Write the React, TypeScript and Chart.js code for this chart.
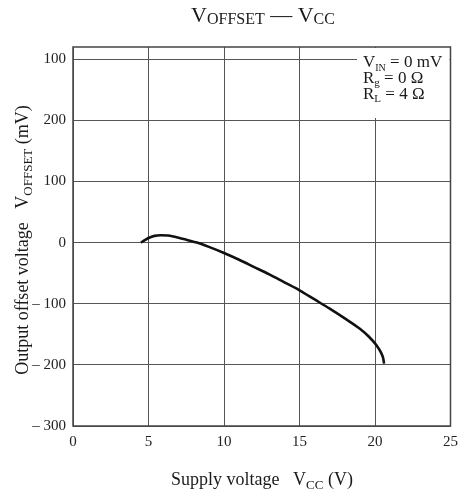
import React, { useEffect, useRef } from "react";
import { Chart, registerables } from "chart.js";

Chart.register(...registerables);

// ---- data ----
const vcc = [4.5, 4.75, 5.0, 5.4, 5.8, 6.3, 7.0, 7.6, 8.2, 9.0, 10.0, 11.0, 12.0, 13.0, 14.0, 15.0, 16.0, 17.0, 18.0, 19.0, 19.6, 20.1, 20.4, 20.55, 20.6];
const voffset = [0, 4, 7.5, 11, 12, 11.5, 8, 4, 0, -7, -17, -28, -40, -52, -65, -78, -93, -108, -124, -141, -154, -168, -180, -190, -198];

const xTickValues = [0, 5, 10, 15, 20, 25];
const xTickLabels = ["0", "5", "10", "15", "20", "25"];
const yTickValues = [-300, -200, -100, 0, 100, 200, 300];
const yTickLabels = ["– 300", "– 200", "– 100", "0", "100", "200", "100"];

const FONT = '"Liberation Serif", "Times New Roman", serif';

type Part = { t: string; size: number; dy?: number };

const titleParts: Part[] = [
  { t: "V", size: 22 },
  { t: "OFFSET", size: 16, dy: 2 },
  { t: " — ", size: 22 },
  { t: "V", size: 22 },
  { t: "CC", size: 16, dy: 2 },
];
const xTitleParts: Part[] = [
  { t: "Supply voltage   V", size: 18 },
  { t: "CC", size: 13, dy: 4 },
  { t: " (V)", size: 18 },
];
const yTitleParts: Part[] = [
  { t: "Output offset voltage   V", size: 18 },
  { t: "OFFSET", size: 13, dy: 4 },
  { t: " (mV)", size: 18 },
];
const conditionLines: Part[][] = [
  [{ t: "V", size: 17 }, { t: "IN", size: 10, dy: 3.5 }, { t: " = 0 mV", size: 17 }],
  [{ t: "R", size: 17 }, { t: "g", size: 11, dy: 3 }, { t: " = 0 Ω", size: 17 }],
  [{ t: "R", size: 17 }, { t: "L", size: 11, dy: 3 }, { t: " = 4 Ω", size: 17 }],
];

function partsWidth(ctx: CanvasRenderingContext2D, parts: Part[]) {
  let w = 0;
  for (const p of parts) {
    ctx.font = `${p.size}px ${FONT}`;
    w += ctx.measureText(p.t).width;
  }
  return w;
}

function drawParts(ctx: CanvasRenderingContext2D, parts: Part[], x: number, y: number, align: "left" | "center") {
  const w = partsWidth(ctx, parts);
  let cx = align === "center" ? x - w / 2 : x;
  ctx.textAlign = "left";
  ctx.textBaseline = "alphabetic";
  for (const p of parts) {
    ctx.font = `${p.size}px ${FONT}`;
    ctx.fillText(p.t, cx, y + (p.dy || 0));
    cx += ctx.measureText(p.t).width;
  }
}

const decorPlugin = {
  id: "decor",
  afterDraw(chart: any) {
    const ctx: CanvasRenderingContext2D = chart.ctx;
    const a = chart.chartArea;
    ctx.save();
    // conditions box
    ctx.fillStyle = "#ffffff";
    ctx.fillRect(357, a.top + 1, a.right - 357 - 1, 117 - a.top);
    ctx.fillStyle = "#1a1a1a";
    const baselines = [67, 83, 99];
    conditionLines.forEach((ln, i) => drawParts(ctx, ln, 363, baselines[i], "left"));
    // frame
    ctx.strokeStyle = "#444";
    ctx.lineWidth = 1.5;
    ctx.strokeRect(a.left, a.top, a.right - a.left, a.bottom - a.top);
    // titles
    ctx.fillStyle = "#1a1a1a";
    drawParts(ctx, titleParts, 263, 22, "center");
    drawParts(ctx, xTitleParts, 262, 485, "center");
    ctx.translate(28, 240);
    ctx.rotate(-Math.PI / 2);
    drawParts(ctx, yTitleParts, 0, 0, "center");
    ctx.restore();
  },
};

export default function App() {
  const ref = useRef<HTMLCanvasElement | null>(null);
  useEffect(() => {
    if (!ref.current) return;
    const chart = new Chart(ref.current, {
      type: "scatter",
      data: {
        datasets: [
          {
            data: vcc.map((x, i) => ({ x, y: voffset[i] })),
            showLine: true,
            borderColor: "#111",
            borderWidth: 2.6,
            pointRadius: 0,
            cubicInterpolationMode: "monotone",
            fill: false,
          },
        ],
      },
      options: {
        animation: false,
        responsive: false,
        devicePixelRatio: 1,
        layout: { padding: { top: 47, left: 0, right: 14, bottom: 0 } },
        plugins: { legend: { display: false }, tooltip: { enabled: false }, title: { display: false } },
        scales: {
          x: {
            type: "linear",
            min: 0,
            max: 25,
            afterFit: (s: any) => { s.height = 67; },
            afterBuildTicks: (s: any) => { s.ticks = xTickValues.map((v) => ({ value: v })); },
            grid: { color: "#555", lineWidth: 1, drawTicks: false },
            border: { display: false },
            ticks: {
              padding: 7,
              color: "#222",
              font: { family: FONT, size: 15 },
              maxRotation: 0,
              callback: (v: any) => xTickLabels[xTickValues.indexOf(Number(v))] ?? "",
            },
          },
          y: {
            type: "linear",
            min: -300,
            max: 320,
            afterFit: (s: any) => { s.width = 73; },
            afterBuildTicks: (s: any) => { s.ticks = yTickValues.map((v) => ({ value: v })); },
            grid: { color: "#555", lineWidth: 1, drawTicks: false },
            border: { display: false },
            ticks: {
              padding: 7,
              color: "#222",
              font: { family: FONT, size: 15 },
              callback: (v: any) => yTickLabels[yTickValues.indexOf(Number(v))] ?? "",
            },
          },
        },
      },
      plugins: [decorPlugin],
    });
    return () => chart.destroy();
  }, []);
  return (
    <div style={{ position: "absolute", left: 0, top: 0, width: 465, height: 493, background: "#fff" }}>
      <canvas ref={ref} width={465} height={493} style={{ width: 465, height: 493, display: "block" }} />
    </div>
  );
}
